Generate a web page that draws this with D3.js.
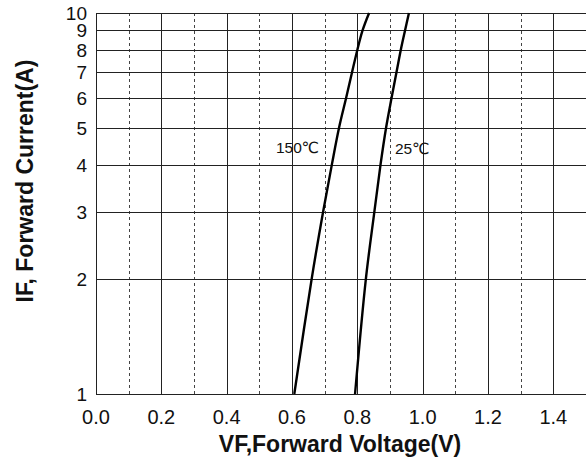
<!DOCTYPE html>
<html>
<head>
<meta charset="utf-8">
<script src="https://cdn.jsdelivr.net/npm/d3@7"></script>
<style>
  html, body { margin: 0; padding: 0; background: #fff; }
  svg { display: block; }
  text { font-family: "Liberation Sans", Arial, "DejaVu Sans", sans-serif; fill: #111; }
</style>
</head>
<body>
<svg id="chart" width="586" height="463"></svg>
<script>
// Data
const currents = [1, 2, 3, 4, 5, 6, 7, 8, 9, 10];
const vf150 = [0.607, 0.660, 0.695, 0.722, 0.744, 0.766, 0.784, 0.800, 0.816, 0.836];
const vf25  = [0.793, 0.826, 0.852, 0.871, 0.888, 0.905, 0.920, 0.933, 0.946, 0.958];
const xTickLabels = ["0.0", "0.2", "0.4", "0.6", "0.8", "1.0", "1.2", "1.4"];
const xMajor = [0.0, 0.2, 0.4, 0.6, 0.8, 1.0, 1.2, 1.4];
const xMinor = [0.1, 0.3, 0.5, 0.7, 0.9, 1.1, 1.3];
const yTicks = [1, 2, 3, 4, 5, 6, 7, 8, 9, 10];
const seriesLabels = ["150℃", "25℃"];

const svg = d3.select("#chart");
const mLeft = 96, mRight = 586, mTop = 13, mBottom = 394;

const x = d3.scaleLinear().domain([0, 1.5]).range([mLeft, mRight]);
const y = d3.scaleLog().domain([1, 10]).range([mBottom, mTop]);

const grid = svg.append("g");
// dashed minor verticals
grid.selectAll("line.minor").data(xMinor).enter().append("line")
  .attr("x1", d => Math.round(x(d)) + 0.5).attr("x2", d => Math.round(x(d)) + 0.5)
  .attr("y1", mTop).attr("y2", mBottom)
  .attr("stroke", "#444").attr("stroke-width", 1).attr("stroke-dasharray", "3,3");
// solid major verticals
grid.selectAll("line.major").data(xMajor).enter().append("line")
  .attr("x1", d => Math.round(x(d)) + 0.5).attr("x2", d => Math.round(x(d)) + 0.5)
  .attr("y1", mTop).attr("y2", mBottom)
  .attr("stroke", "#222").attr("stroke-width", 1);
// horizontals
grid.selectAll("line.h").data(yTicks).enter().append("line")
  .attr("x1", mLeft).attr("x2", mRight)
  .attr("y1", d => Math.round(y(d)) + 0.5).attr("y2", d => Math.round(y(d)) + 0.5)
  .attr("stroke", "#222").attr("stroke-width", 1);

// X tick labels
svg.append("g").selectAll("text").data(xMajor).enter().append("text")
  .attr("x", d => x(d)).attr("y", 424)
  .attr("text-anchor", "middle").attr("font-size", 20)
  .text((d, i) => xTickLabels[i]);

// Y tick labels
svg.append("g").selectAll("text").data(yTicks).enter().append("text")
  .attr("x", 87).attr("y", d => y(d) + 7)
  .attr("text-anchor", "end").attr("font-size", 19)
  .text(d => d);

// Curves
const line = d3.line().x(d => x(d[0])).y(d => y(d[1])).curve(d3.curveCatmullRom.alpha(0.5));
[vf150, vf25].forEach(vs => {
  svg.append("path")
    .attr("d", line(vs.map((v, i) => [v, currents[i]])))
    .attr("fill", "none").attr("stroke", "#000").attr("stroke-width", 2.4);
});

// Series labels
svg.append("text").attr("x", 276).attr("y", 153).attr("font-size", 15.5).text(seriesLabels[0]);
svg.append("text").attr("x", 395).attr("y", 154).attr("font-size", 15.5).text(seriesLabels[1]);

// Axis titles
svg.append("text").attr("x", 340).attr("y", 452)
  .attr("text-anchor", "middle").attr("font-size", 23).attr("font-weight", "bold")
  .text("VF,Forward Voltage(V)");
svg.append("text").attr("transform", "translate(33,181) rotate(-90)")
  .attr("text-anchor", "middle").attr("font-size", 23).attr("font-weight", "bold")
  .text("IF, Forward Current(A)");
</script>
</body>
</html>
